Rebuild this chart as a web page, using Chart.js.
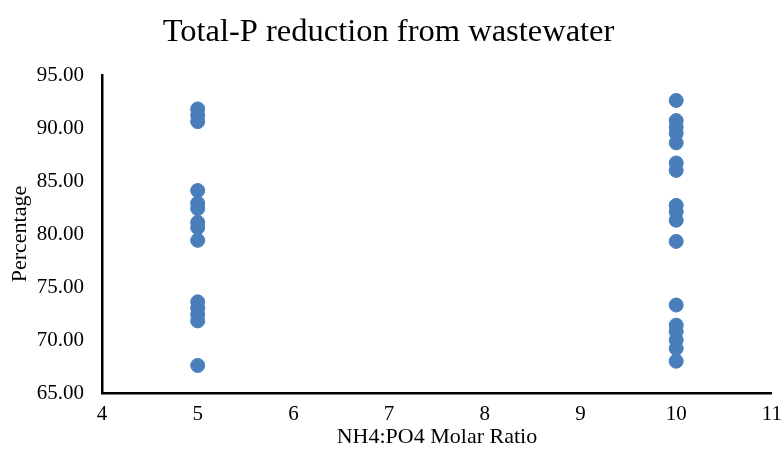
<!DOCTYPE html>
<html>
<head>
<meta charset="utf-8">
<script src="https://cdn.jsdelivr.net/npm/chart.js@4"></script>
<style>
html,body{margin:0;padding:0;background:#fff;}
#wrap{width:783px;height:458px;}
</style>
</head>
<body>
<div id="wrap"><canvas id="c" width="783" height="458"></canvas></div>
<script>
const ratioA = 5;
const valuesA = [91.8, 91.2, 90.6, 84.1, 82.9, 82.4, 81.1, 80.6, 79.4, 73.6, 73.0, 72.4, 71.8, 67.6];
const ratioB = 10;
const valuesB = [92.6, 90.7, 90.1, 89.5, 88.6, 86.7, 86.0, 82.7, 82.1, 81.3, 79.3, 73.3, 71.4, 70.8, 70.0, 69.2, 68.0];
const yTicks = [65, 70, 75, 80, 85, 90, 95];
const xTicks = [4, 5, 6, 7, 8, 9, 10, 11];

const points = valuesA.map(v => ({x: ratioA, y: v})).concat(valuesB.map(v => ({x: ratioB, y: v})));
const serif = "'Liberation Serif', 'Times New Roman', serif";

new Chart(document.getElementById('c'), {
  type: 'scatter',
  data: {datasets: [{
    data: points,
    backgroundColor: '#4a7ebb',
    borderColor: '#4a7ebb',
    pointRadius: 7,
    pointHoverRadius: 7
  }]},
  options: {
    responsive: false,
    animation: false,
    layout: {padding: {left: 0, right: 6, top: 0, bottom: 0}},
    plugins: {
      legend: {display: false},
      tooltip: {enabled: false},
      title: {
        display: true,
        text: 'Total-P reduction from wastewater',
        color: '#000',
        font: {family: serif, size: 32.5, weight: 'normal'},
        padding: {top: 13, bottom: 23}
      }
    },
    scales: {
      x: {
        type: 'linear',
        min: xTicks[0], max: xTicks[xTicks.length - 1],
        afterBuildTicks: s => { s.ticks = xTicks.map(v => ({value: v})); },
        grid: {display: false},
        border: {display: true, color: '#000', width: 2.5},
        ticks: {color: '#000', font: {family: serif, size: 21}, padding: 1},
        title: {display: true, text: 'NH4:PO4 Molar Ratio', color: '#000', font: {family: serif, size: 22}, padding: {top: 4, bottom: 8}},
        afterFit: s => { s.height = 65; }
      },
      y: {
        type: 'linear',
        min: yTicks[0], max: yTicks[yTicks.length - 1],
        afterBuildTicks: s => { s.ticks = yTicks.map(v => ({value: v})); },
        grid: {display: false},
        border: {display: true, color: '#000', width: 2.5},
        ticks: {color: '#000', font: {family: serif, size: 21}, padding: 10, callback: v => Number(v).toFixed(2)},
        title: {display: true, text: 'Percentage', color: '#000', font: {family: serif, size: 22}, padding: {top: 7, bottom: 2}},
        afterFit: s => { s.width = 102; }
      }
    }
  }
});
</script>
</body>
</html>
